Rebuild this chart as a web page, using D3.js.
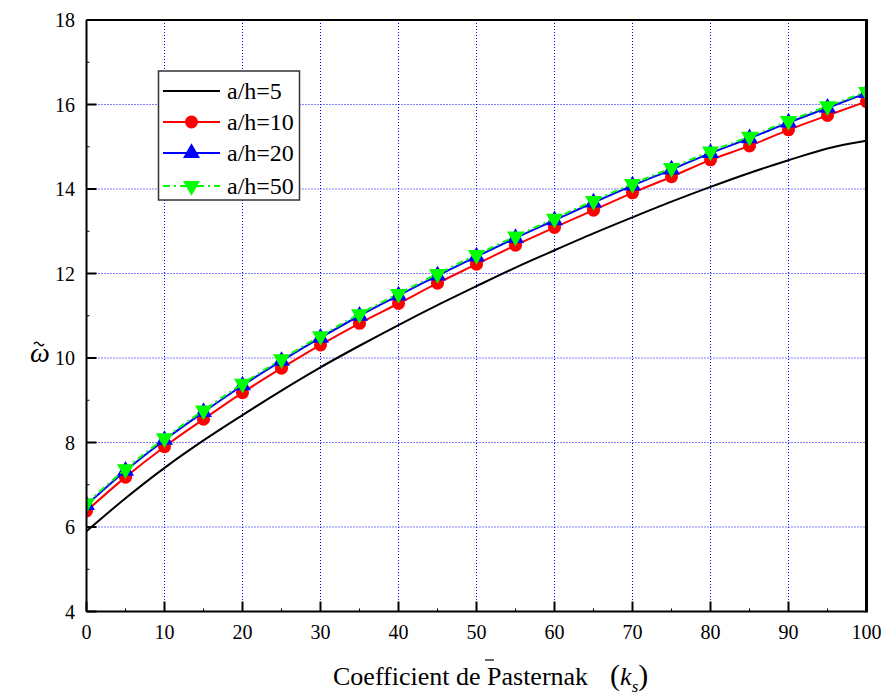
<!DOCTYPE html>
<html>
<head>
<meta charset="utf-8">
<script src="https://cdn.jsdelivr.net/npm/d3@7"></script>
<style>
  html, body { margin: 0; padding: 0; background: #fff; }
</style>
</head>
<body>
<svg id="chart" width="883" height="695"></svg>
<script>
// Foundation stiffness coefficient (Pasternak) and dimensionless frequency per a/h ratio
const ks = [0, 5, 10, 15, 20, 25, 30, 35, 40, 45, 50, 55, 60, 65, 70, 75, 80, 85, 90, 95, 100];
const ah5  = [5.90, 6.68, 7.40, 8.05, 8.65, 9.23, 9.78, 10.29, 10.78, 11.25, 11.70, 12.14, 12.55, 12.95, 13.33, 13.70, 14.05, 14.38, 14.68, 14.96, 15.14];
const ah10 = [6.38, 7.18, 7.90, 8.55, 9.18, 9.76, 10.31, 10.82, 11.29, 11.77, 12.22, 12.67, 13.09, 13.50, 13.91, 14.29, 14.69, 15.02, 15.40, 15.74, 16.07];
const ah20 = [6.52, 7.33, 8.06, 8.72, 9.35, 9.93, 10.48, 11.00, 11.48, 11.95, 12.40, 12.84, 13.26, 13.68, 14.08, 14.46, 14.85, 15.20, 15.57, 15.92, 16.27];
const ah50 = [6.56, 7.37, 8.10, 8.76, 9.39, 9.97, 10.52, 11.04, 11.52, 11.99, 12.44, 12.88, 13.30, 13.72, 14.12, 14.50, 14.89, 15.24, 15.61, 15.96, 16.30];

const seriesNames = ["a/h=5", "a/h=10", "a/h=20", "a/h=50"];
const xTicks = [0, 10, 20, 30, 40, 50, 60, 70, 80, 90, 100];
const yTicks = [4, 6, 8, 10, 12, 14, 16, 18];

const FONT = "'Liberation Serif', 'Times New Roman', serif";
const svg = d3.select("#chart");
const L = 86.5, R = 866.5, T = 20, B = 611.5;

const x = d3.scaleLinear().domain([0, 100]).range([L, R]);
const y = d3.scaleLinear().domain([4, 18]).range([B, T]);

const series = [
  { name: seriesNames[0], vals: ah5,  color: "#000000", dash: null,      marker: null },
  { name: seriesNames[1], vals: ah10, color: "#ff0000", dash: null,      marker: "circle" },
  { name: seriesNames[2], vals: ah20, color: "#0000ff", dash: null,      marker: "up" },
  { name: seriesNames[3], vals: ah50, color: "#00ff00", dash: "7,4,2,4", marker: "down" }
];

svg.append("defs").append("clipPath").attr("id", "plotClip")
  .append("rect").attr("x", L).attr("y", T).attr("width", R - L).attr("height", B - T);

// dotted grid at the major ticks
const grid = svg.append("g").attr("stroke", "#0000ff").attr("stroke-width", 1).attr("stroke-dasharray", "1,2");
xTicks.filter(d => d > 0 && d < 100).forEach(d => {
  grid.append("line").attr("x1", x(d)).attr("x2", x(d)).attr("y1", T).attr("y2", B);
});
yTicks.filter(d => d > 4 && d < 18).forEach(d => {
  grid.append("line").attr("x1", L).attr("x2", R).attr("y1", y(d)).attr("y2", y(d));
});

function markerPath(kind) {
  if (kind === "circle") return d3.symbol().type(d3.symbolCircle).size(Math.PI * 6.5 * 6.5)();
  return d3.symbol().type(d3.symbolTriangle).size(125)();
}
function drawMarker(g, kind, color, cx, cy) {
  const rot = kind === "down" ? 180 : 0;
  g.append("path").attr("d", markerPath(kind)).attr("fill", color)
    .attr("transform", `translate(${cx},${cy}) rotate(${rot})`);
}

// curves and markers
const plot = svg.append("g").attr("clip-path", "url(#plotClip)");
const line = d3.line().x((d, i) => x(ks[i])).y(d => y(d)).curve(d3.curveMonotoneX);
series.forEach(s => {
  const p = plot.append("path").attr("d", line(s.vals))
    .attr("fill", "none").attr("stroke", s.color).attr("stroke-width", 2);
  if (s.dash) p.attr("stroke-dasharray", s.dash);
  if (s.marker) s.vals.forEach((v, i) => drawMarker(plot, s.marker, s.color, x(ks[i]), y(v)));
});

// frame
const ax = svg.append("g").attr("stroke", "#000");
ax.append("line").attr("x1", L).attr("x2", R).attr("y1", B).attr("y2", B).attr("stroke-width", 2);
ax.append("line").attr("x1", L).attr("x2", R).attr("y1", T).attr("y2", T).attr("stroke-width", 2);
ax.append("line").attr("x1", L).attr("x2", L).attr("y1", T).attr("y2", B).attr("stroke-width", 2);
ax.append("line").attr("x1", R).attr("x2", R).attr("y1", T - 1).attr("y2", B + 1).attr("stroke-width", 3);

// inward ticks
d3.range(0, 101, 5).forEach(d => {
  const major = d % 10 === 0;
  ax.append("line").attr("x1", x(d)).attr("x2", x(d)).attr("y1", B).attr("y2", B - (major ? 10 : 3))
    .attr("stroke-width", major ? 2 : 1);
});
d3.range(4, 18.01, 1).forEach(d => {
  const major = d % 2 === 0;
  ax.append("line").attr("x1", L).attr("x2", L + (major ? 10 : 3)).attr("y1", y(d)).attr("y2", y(d))
    .attr("stroke-width", major ? 2 : 1);
});

// tick labels
svg.append("g").selectAll("text").data(xTicks).join("text")
  .attr("x", d => x(d)).attr("y", 639).attr("text-anchor", "middle")
  .attr("font-family", FONT).attr("font-size", 20).attr("fill", "#000").text(d => d);
svg.append("g").selectAll("text").data(yTicks).join("text")
  .attr("x", 75).attr("y", d => y(d) + 7).attr("text-anchor", "end")
  .attr("font-family", FONT).attr("font-size", 20).attr("fill", "#000").text(d => d);

// x axis title
const xt = svg.append("text").attr("x", 333).attr("y", 685)
  .attr("font-family", FONT).attr("font-size", 26).attr("fill", "#000");
xt.append("tspan").text("Coefficient de Pasternak");
xt.append("tspan").attr("dx", 22).attr("font-size", 30).text("(");
xt.append("tspan").attr("font-style", "italic").text("k");
xt.append("tspan").attr("font-style", "italic").attr("font-size", 17).attr("dy", 7).text("s");
xt.append("tspan").attr("font-size", 30).attr("dy", -7).text(")");
svg.append("line").attr("x1", 485).attr("x2", 494).attr("y1", 660).attr("y2", 660)
  .attr("stroke", "#000").attr("stroke-width", 1.2);

// y axis title: omega with a tilde accent
svg.append("text").attr("x", 30).attr("y", 362)
  .attr("font-family", FONT).attr("font-size", 28).attr("font-style", "italic").attr("fill", "#000")
  .text("\u03C9");
svg.append("path").attr("d", "M34,344 q2.5,-3.5 5,0 t5,0")
  .attr("fill", "none").attr("stroke", "#000").attr("stroke-width", 1.3);

// legend
const lg = svg.append("g");
lg.append("rect").attr("x", 158.5).attr("y", 71).attr("width", 141).attr("height", 129)
  .attr("fill", "#fff").attr("stroke", "#333").attr("stroke-width", 1.5);
const rows = [91, 122, 153, 186];
series.forEach((s, i) => {
  const yy = rows[i];
  const l = lg.append("line").attr("x1", 163).attr("x2", 220).attr("y1", yy).attr("y2", yy)
    .attr("stroke", s.color).attr("stroke-width", 2);
  if (s.dash) l.attr("stroke-dasharray", s.dash);
  if (s.marker) drawMarker(lg, s.marker, s.color, 191.5, yy);
  lg.append("text").attr("x", 227).attr("y", yy + 8).attr("font-family", FONT)
    .attr("font-size", 24).attr("fill", "#000").text(s.name);
});
</script>
</body>
</html>
